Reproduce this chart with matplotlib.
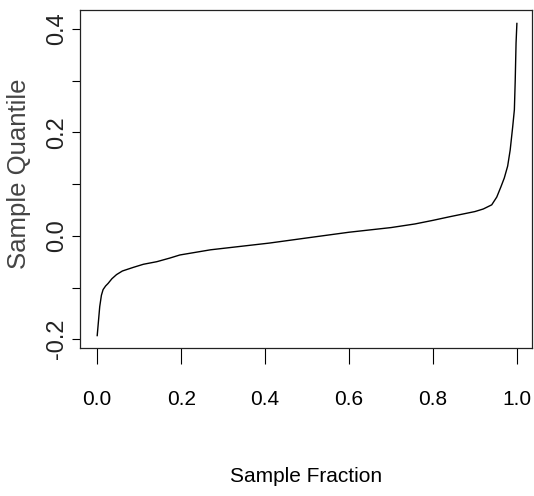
import matplotlib.pyplot as plt
import numpy as np

# sample fraction vs sample quantile
frac = [0.0, 0.003, 0.006, 0.010, 0.014, 0.020, 0.026, 0.035, 0.046, 0.060,
        0.086, 0.110, 0.142, 0.173, 0.197, 0.270, 0.410, 0.500, 0.600, 0.700,
        0.757, 0.800, 0.840, 0.870, 0.900, 0.920, 0.940, 0.952, 0.962, 0.970,
        0.978, 0.984, 0.990, 0.994, 0.996, 0.998, 1.000]
quant = [-0.193, -0.165, -0.137, -0.115, -0.104, -0.097, -0.092, -0.083, -0.075, -0.068,
         -0.061, -0.055, -0.050, -0.043, -0.037, -0.027, -0.014, -0.004, 0.007, 0.016,
         0.023, 0.030, 0.037, 0.042, 0.047, 0.052, 0.060, 0.075, 0.095, 0.112,
         0.135, 0.166, 0.211, 0.244, 0.300, 0.373, 0.411]

xticks = [0.0, 0.2, 0.4, 0.6, 0.8, 1.0]
xticklabels = ['0.0', '0.2', '0.4', '0.6', '0.8', '1.0']
yticks = [-0.2, -0.1, 0.0, 0.1, 0.2, 0.3, 0.4]
yticklabels = ['-0.2', '', '0.0', '', '0.2', '', '0.4']

fig = plt.figure(figsize=(5.34, 4.96), dpi=100)
ax = fig.add_axes([80/534, 1 - 348/496, 452/534, 338/496])

ax.plot(frac, quant, color='black', lw=1.0)

ax.set_xlim(-0.041, 1.036)
ax.set_ylim(-0.217, 0.437)

ax.set_xticks(xticks)
ax.set_xticklabels(xticklabels, family='Liberation Sans', fontsize=15)
ax.set_yticks(yticks)
ax.set_yticklabels(yticklabels, family='Liberation Sans', fontsize=17,
                   rotation=90, va='center', color='#222222')

ax.tick_params(axis='x', direction='out', length=11.5, width=0.8, pad=19)
ax.tick_params(axis='y', direction='out', length=5.8, width=0.8, pad=3.0)

for s in ax.spines.values():
    s.set_linewidth(0.9)
    s.set_color('#222222')

fig.text(306/534, 1 - 476/496, 'Sample Fraction', family='Liberation Sans',
         fontsize=15, ha='center', va='center')
fig.text(19/534, 1 - 174/496, 'Sample Quantile', family='Liberation Sans',
         fontsize=18.5, rotation=90, ha='center', va='center', color='#444444')

fig.savefig('out.png', dpi=100)
